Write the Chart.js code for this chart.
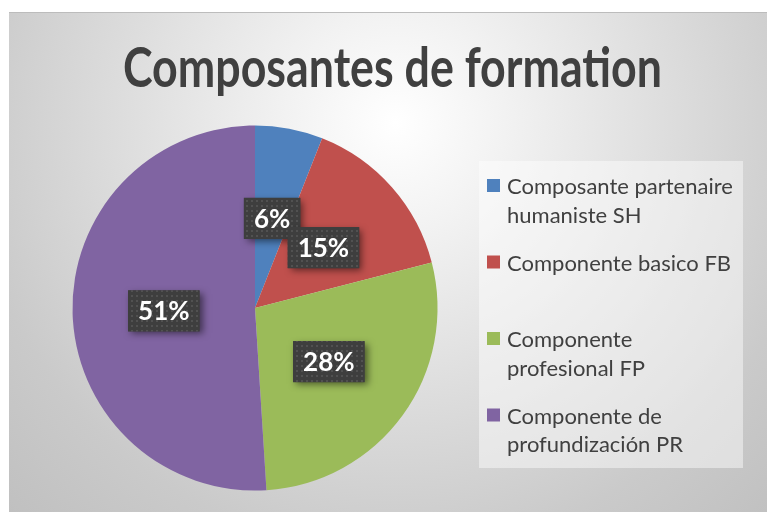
<!DOCTYPE html>
<html><head><meta charset="utf-8">
<script src="https://cdn.jsdelivr.net/npm/chart.js@4.4.0/dist/chart.umd.min.js"></script>
<style>
html,body{margin:0;padding:0;background:#fff;width:767px;height:512px;overflow:hidden}
#frame{position:absolute;left:9px;top:12px;width:758px;height:500px;border-top:1px solid #bcbcbc;box-sizing:border-box;
background:radial-gradient(circle farthest-corner at 51% 22%, #ffffff 0%, #f2f2f2 20%, #dddddd 50%, #cacaca 78%, #c0c0c0 100%);}
canvas{position:absolute;left:0;top:0}
</style></head><body>
<div id="frame"><canvas id="c" width="758" height="499"></canvas></div>
<script>
const TITLE = "Composantes de formation";
const categories = [
  ["Composante partenaire", "humaniste SH"],
  ["Componente basico FB"],
  ["Componente", "profesional FP"],
  ["Componente de", "profundización PR"]
];
const values = [6, 15, 28, 51];
const colors = ["#4F81BD", "#C0504D", "#9BBB59", "#8064A2"];

function makePattern(ctx) {
  const p = document.createElement('canvas');
  p.width = 5; p.height = 5;
  const g = p.getContext('2d');
  g.fillStyle = '#3e3e3e'; g.fillRect(0, 0, 5, 5);
  g.fillStyle = '#515151'; g.fillRect(2, 2, 2, 2);
  return ctx.createPattern(p, 'repeat');
}

const decor = {
  id: 'decor',
  afterDatasetsDraw(chart) {
    const ctx = chart.ctx;
    const meta = chart.getDatasetMeta(0);
    const data = chart.data.datasets[0].data;
    const total = data.reduce((a, b) => a + b, 0);
    const pat = makePattern(ctx);
    meta.data.forEach((arc, i) => {
      const pos = arc.tooltipPosition();
      const txt = Math.round(data[i] / total * 100) + '%';
      ctx.save();
      ctx.font = 'bold 26px Lato';
      const w = ctx.measureText(txt).width + 20, h = 41;
      const x = pos.x - w / 2, y = pos.y - h / 2;
      ctx.shadowColor = 'rgba(0,0,0,0.5)';
      ctx.shadowBlur = 7; ctx.shadowOffsetX = 3; ctx.shadowOffsetY = 3;
      ctx.fillStyle = '#404040';
      ctx.fillRect(x, y, w, h);
      ctx.shadowColor = 'transparent';
      ctx.fillStyle = pat;
      ctx.fillRect(x, y, w, h);
      ctx.fillStyle = '#ffffff';
      ctx.textAlign = 'center'; ctx.textBaseline = 'middle';
      ctx.fillText(txt, pos.x, pos.y + 1);
      ctx.restore();
    });
  },
  afterDraw(chart) {
    const ctx = chart.ctx;
    // title
    ctx.save();
    ctx.font = 'bold 55px Lato';
    ctx.fillStyle = '#404040';
    const tw = ctx.measureText(TITLE).width;
    const sx = Math.min(1, 539 / tw);
    ctx.translate(383.5, 74);
    ctx.scale(sx, 1);
    ctx.textAlign = 'center'; ctx.textBaseline = 'alphabetic';
    ctx.fillText(TITLE, 0, 0);
    ctx.restore();
    // legend
    ctx.save();
    ctx.fillStyle = 'rgba(255,255,255,0.45)';
    ctx.fillRect(470, 148, 264, 307);
    ctx.font = '22px Lato';
    ctx.textAlign = 'left'; ctx.textBaseline = 'alphabetic';
    chart.data.labels.forEach((lab, i) => {
      const base = 181 + i * 76.5;
      ctx.fillStyle = chart.data.datasets[0].backgroundColor[i];
      ctx.fillRect(478, base - 15, 13, 13);
      ctx.fillStyle = '#404040';
      lab.forEach((line, j) => ctx.fillText(line, 498, base + j * 28.5));
    });
    ctx.restore();
  }
};

new Chart(document.getElementById('c'), {
  type: 'pie',
  data: {
    labels: categories,
    datasets: [{
      data: values,
      backgroundColor: colors,
      borderWidth: 0,
      hoverOffset: 0,
      offset: 0
    }]
  },
  options: {
    responsive: false,
    animation: false,
    events: [],
    rotation: 0,
    layout: { padding: { left: 63.5, right: 329.5, top: 112.5, bottom: 21.5 } },
    plugins: {
      legend: { display: false },
      title: { display: false },
      tooltip: { enabled: false }
    }
  },
  plugins: [decor]
});
</script>
</body></html>
